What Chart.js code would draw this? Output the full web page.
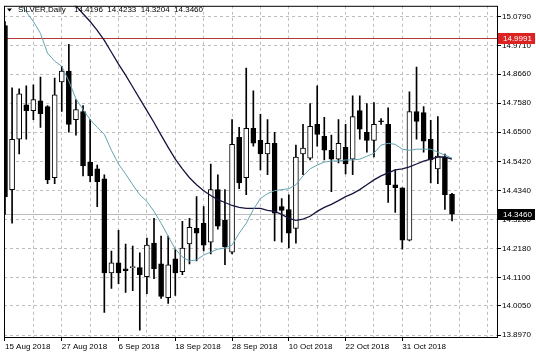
<!DOCTYPE html>
<html>
<head>
<meta charset="utf-8">
<title>SILVER,Daily</title>
<script src="https://cdn.jsdelivr.net/npm/chart.js@4/dist/chart.umd.min.js"></script>
<style>
  html, body { margin: 0; padding: 0; background: #fff; }
  canvas { display: block; }
</style>
</head>
<body>
<canvas id="chart" width="536" height="358"></canvas>
<script>
// Data
const symbolName = 'SILVER,Daily';
const dateLabels = ['15 Aug 2018', '27 Aug 2018', '6 Sep 2018', '18 Sep 2018', '28 Sep 2018', '10 Oct 2018', '22 Oct 2018', '31 Oct 2018'];
const yTicks = [15.079, 14.971, 14.866, 14.758, 14.650, 14.542, 14.434, 14.326, 14.218, 14.110, 14.005, 13.897];
const alertLevel = 14.9991;
const bidPrice = 14.3460;

const opens = [15.046, 14.437, 14.624, 14.752, 14.730, 14.767, 14.745, 14.481, 14.837, 14.877,
  14.697, 14.727, 14.539, 14.514, 14.477, 14.128, 14.165, 14.143, 14.147, 14.147,
  14.114, 14.238, 14.161, 14.036, 14.180, 14.132, 14.235, 14.293, 14.312, 14.242,
  14.437, 14.323, 14.205, 14.631, 14.481, 14.664, 14.620, 14.569, 14.609, 14.374,
  14.363, 14.293, 14.569, 14.554, 14.679, 14.635, 14.583, 14.550, 14.594, 14.550,
  14.730, 14.650, 14.620, 14.690, 14.679, 14.455, 14.444, 14.249, 14.727, 14.723,
  14.624, 14.514, 14.558, 14.4196];
const highs = [15.061, 14.815, 14.811, 14.822, 14.826, 14.855, 14.749, 14.851, 14.895, 14.976,
  14.771, 14.749, 14.697, 14.528, 14.492, 14.209, 14.286, 14.235, 14.227, 14.202,
  14.257, 14.330, 14.264, 14.264, 14.216, 14.319, 14.330, 14.411, 14.374, 14.532,
  14.492, 14.437, 14.697, 14.668, 14.888, 14.804, 14.716, 14.697, 14.650, 14.404,
  14.418, 14.602, 14.679, 14.756, 14.822, 14.705, 14.639, 14.697, 14.679, 14.785,
  14.785, 14.756, 14.760, 14.701, 14.741, 14.510, 14.444, 14.800, 14.892, 14.745,
  14.694, 14.708, 14.569, 14.4233];
const lows = [14.345, 14.312, 14.569, 14.624, 14.697, 14.668, 14.459, 14.459, 14.727, 14.650,
  14.639, 14.488, 14.466, 14.374, 13.981, 14.070, 14.088, 14.055, 14.062, 13.915,
  14.051, 14.106, 14.033, 14.014, 14.044, 14.121, 14.161, 14.172, 14.209, 14.198,
  14.290, 14.158, 14.198, 14.440, 14.418, 14.598, 14.510, 14.492, 14.246, 14.242,
  14.220, 14.238, 14.492, 14.547, 14.598, 14.547, 14.429, 14.536, 14.495, 14.492,
  14.624, 14.576, 14.558, 14.679, 14.389, 14.352, 14.216, 14.246, 14.624, 14.576,
  14.462, 14.459, 14.363, 14.3204];
const closes = [14.411, 14.624, 14.793, 14.730, 14.771, 14.719, 14.473, 14.789, 14.877, 14.679,
  14.734, 14.525, 14.488, 14.466, 14.128, 14.165, 14.128, 14.136, 14.150, 14.121,
  14.231, 14.143, 14.040, 14.158, 14.128, 14.220, 14.297, 14.275, 14.231, 14.437,
  14.301, 14.224, 14.605, 14.462, 14.664, 14.609, 14.569, 14.609, 14.349, 14.360,
  14.275, 14.558, 14.591, 14.672, 14.642, 14.583, 14.550, 14.609, 14.532, 14.708,
  14.661, 14.620, 14.679, 14.689, 14.455, 14.444, 14.249, 14.727, 14.690, 14.617,
  14.547, 14.561, 14.418, 14.3460];

// moving averages
const fastMa = [15.211, 15.171, 15.134, 15.097, 15.061, 15.017, 14.943, 14.914, 14.895, 14.840,
  14.774, 14.734, 14.697, 14.668, 14.642, 14.583, 14.532, 14.495, 14.455, 14.418,
  14.393, 14.356, 14.312, 14.264, 14.216, 14.187, 14.172, 14.176, 14.194, 14.205,
  14.216, 14.220, 14.231, 14.275, 14.312, 14.363, 14.404, 14.422, 14.433, 14.437,
  14.440, 14.455, 14.488, 14.514, 14.528, 14.539, 14.543, 14.543, 14.547, 14.547,
  14.550, 14.561, 14.572, 14.602, 14.609, 14.605, 14.587, 14.583, 14.587, 14.587,
  14.587, 14.576, 14.565, 14.554];
const slowMa = [15.424, 15.395, 15.365, 15.336, 15.303, 15.274, 15.240, 15.211, 15.182, 15.149,
  15.119, 15.090, 15.061, 15.028, 14.991, 14.947, 14.903, 14.862, 14.818, 14.774,
  14.730, 14.686, 14.639, 14.594, 14.550, 14.514, 14.481, 14.455, 14.433, 14.415,
  14.400, 14.389, 14.378, 14.371, 14.367, 14.367, 14.367, 14.360, 14.356, 14.345,
  14.330, 14.323, 14.327, 14.338, 14.356, 14.371, 14.382, 14.396, 14.411, 14.422,
  14.437, 14.455, 14.473, 14.488, 14.499, 14.510, 14.514, 14.521, 14.532, 14.543,
  14.550, 14.558, 14.558, 14.550];

const FONT = 'Liberation Sans, Arial, sans-serif';

// Build datasets
const bars = opens.map((_, i) => i);
const wickData = bars.map(i => ({ x: i, y: [lows[i], highs[i]] }));
const bodyData = bars.map(i => ({ x: i, y: [Math.min(opens[i], closes[i]), Math.max(opens[i], closes[i])] }));
const bodyColors = bars.map(i => (closes[i] > opens[i] ? '#ffffff' : '#000000'));

// Frame, levels, price boxes and header
const overlay = {
  id: 'overlay',
  beforeDatasetsDraw(chart) {
    const { ctx, chartArea: a, scales } = chart;
    const yA = Math.round(scales.y.getPixelForValue(alertLevel)) + 0.5;
    const yB = Math.round(scales.y.getPixelForValue(bidPrice)) + 0.5;
    ctx.save();
    ctx.lineWidth = 1;
    ctx.strokeStyle = '#bcbcbc';
    ctx.beginPath();
    ctx.moveTo(a.left, yB);
    ctx.lineTo(a.right, yB);
    ctx.stroke();
    ctx.strokeStyle = '#b03a3a';
    ctx.beginPath();
    ctx.moveTo(a.left, yA);
    ctx.lineTo(a.right, yA);
    ctx.stroke();
    ctx.restore();
  },
  afterDraw(chart) {
    const { ctx, chartArea: a, scales } = chart;
    ctx.save();
    ctx.lineWidth = 1;
    ctx.strokeStyle = '#000';
    ctx.strokeRect(a.left + 0.5, a.top + 0.5, a.right - a.left, a.bottom - a.top);

    // price boxes on the axis
    const box = (value, fill) => {
      const y = scales.y.getPixelForValue(value);
      ctx.fillStyle = fill;
      ctx.fillRect(a.right + 1, Math.round(y) - 5, 37, 11);
      ctx.fillStyle = '#fff';
      ctx.font = '8px ' + FONT;
      ctx.textBaseline = 'middle';
      ctx.textAlign = 'left';
      ctx.fillText(value.toFixed(4), a.right + 6, Math.round(y) + 0.5);
    };
    box(alertLevel, '#dd2222');
    box(bidPrice, '#000');

    // header
    const last = opens.length - 1;
    ctx.fillStyle = '#000';
    ctx.beginPath();
    ctx.moveTo(7, 8.5);
    ctx.lineTo(12, 8.5);
    ctx.lineTo(9.5, 11.5);
    ctx.closePath();
    ctx.fill();
    ctx.font = '8px ' + FONT;
    ctx.textBaseline = 'middle';
    ctx.fillText(symbolName, 18, 10);
    const ohlc = [opens[last], highs[last], lows[last], closes[last]].map(v => v.toFixed(4)).join('  ');
    ctx.fillText(ohlc, 74, 10);
    ctx.restore();
  }
};

const chart = new Chart(document.getElementById('chart'), {
  type: 'bar',
  data: {
    datasets: [
      {
        type: 'line',
        data: bars.map(i => ({ x: i, y: fastMa[i] })),
        borderColor: '#62a3b4',
        borderWidth: 1,
        pointRadius: 0,
        tension: 0,
        order: 0,
      },
      {
        type: 'line',
        data: bars.map(i => ({ x: i, y: slowMa[i] })),
        borderColor: '#16163f',
        borderWidth: 1.3,
        pointRadius: 0,
        tension: 0,
        order: 0,
      },
      {
        data: bodyData,
        backgroundColor: bodyColors,
        borderColor: '#000',
        borderWidth: 1,
        borderSkipped: false,
        barThickness: 5,
        minBarLength: 1,
        grouped: false,
        order: 1,
      },
      {
        data: wickData,
        backgroundColor: '#000',
        borderWidth: 0,
        barThickness: 1,
        grouped: false,
        order: 2,
      },
    ],
  },
  options: {
    responsive: false,
    animation: false,
    layout: { padding: { left: 4, top: 2, right: 0, bottom: 0 } },
    plugins: {
      legend: { display: false },
      tooltip: { enabled: false },
    },
    scales: {
      x: {
        type: 'linear',
        min: -0.14,
        max: 69.34,
        offset: false,
        afterBuildTicks: scale => {
          scale.ticks = [];
          for (let v = 0; v <= 68; v += 4) scale.ticks.push({ value: v });
        },
        afterFit: scale => { scale.height = 21; },
        grid: {
          offset: false,
          color: '#bdbdbd',
          lineWidth: 1,
          tickLength: 4,
          tickColor: ctx => (ctx.tick && ctx.tick.value % 8 === 0 && ctx.tick.value <= 56 ? '#000' : 'rgba(0,0,0,0)'),
        },
        border: { display: false, dash: [3, 3] },
        ticks: {
          autoSkip: false,
          maxRotation: 0,
          minRotation: 0,
          align: 'start',
          padding: 1,
          color: '#000',
          font: { family: FONT, size: 8 },
          callback: value => (value % 8 === 0 ? dateLabels[value / 8] || '' : ''),
        },
      },
      y: {
        position: 'right',
        min: 13.8897,
        max: 15.1194,
        afterBuildTicks: scale => {
          scale.ticks = yTicks.map(v => ({ value: v }));
        },
        afterFit: scale => { scale.width = 39; },
        grid: {
          color: '#bdbdbd',
          lineWidth: 1,
          tickLength: 4,
          tickColor: '#000',
        },
        border: { display: false, dash: [3, 3] },
        ticks: {
          autoSkip: false,
          padding: 1,
          color: '#000',
          font: { family: FONT, size: 8 },
          callback: value => Number(value).toFixed(4),
        },
      },
    },
  },
  plugins: [overlay],
});
</script>
</body>
</html>
